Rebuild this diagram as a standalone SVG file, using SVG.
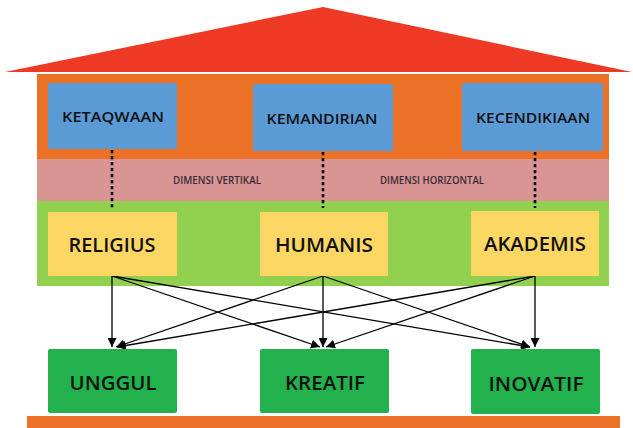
<svg xmlns="http://www.w3.org/2000/svg" width="633" height="428" viewBox="0 0 633 428">
<style>
.top{fill:#5B9BD5}
.mid{fill:#FDD764}
.bot{fill:#22B14C}
.t1{font-family:"Open Sans",Lato,sans-serif;font-size:13.5px;font-weight:600;fill:#111;text-anchor:middle}
.t2{font-family:"Open Sans",Lato,sans-serif;font-size:20.5px;font-weight:600;fill:#111;text-anchor:middle}
.dim{font-family:"Open Sans",Lato,sans-serif;font-size:11px;font-weight:600;fill:#3a2b35;text-anchor:middle}
.dot{stroke:#000;stroke-width:2.6;stroke-dasharray:3.2 2.8;fill:none}
.ar{stroke:#000;stroke-width:1.3;fill:none;marker-end:url(#ah)}
</style>
<defs>
<marker id="ah" viewBox="0 0 10 10" refX="10" refY="5" markerWidth="9" markerHeight="9" markerUnits="userSpaceOnUse" orient="auto">
<path d="M0,0 L10,5 L0,10 z" fill="#000"/>
</marker>
</defs>
<g id="house">
<polygon points="5,72 323,7 632,72" fill="#EE3A24"/>
<rect x="37" y="74" width="572" height="85" fill="#EA7125"/>
<rect x="37" y="159" width="572" height="42" fill="#D99594"/>
<rect x="37" y="201" width="572" height="85" fill="#92D050"/>
<rect x="27" y="416" width="593" height="12" fill="#EA7125"/>
<text class="dim" x="217" y="184" textLength="88" lengthAdjust="spacingAndGlyphs">DIMENSI VERTIKAL</text>
<text class="dim" x="432" y="184" textLength="104" lengthAdjust="spacingAndGlyphs">DIMENSI HORIZONTAL</text>
</g>
<g id="connectors">
<line class="dot" x1="112" y1="150" x2="112" y2="208"/>
<line class="dot" x1="323" y1="152" x2="323" y2="208"/>
<line class="dot" x1="535" y1="152" x2="535" y2="208"/>
<line class="ar" x1="112" y1="276" x2="112" y2="347"/>
<line class="ar" x1="112" y1="276" x2="320" y2="347"/>
<line class="ar" x1="112" y1="276" x2="530" y2="347"/>
<line class="ar" x1="323" y1="276" x2="116" y2="347"/>
<line class="ar" x1="323" y1="276" x2="323" y2="347"/>
<line class="ar" x1="323" y1="276" x2="530" y2="347"/>
<line class="ar" x1="535" y1="276" x2="117" y2="347"/>
<line class="ar" x1="535" y1="276" x2="326" y2="347"/>
<line class="ar" x1="535" y1="276" x2="535" y2="347"/>
</g>
<g id="ketaqwaan"><rect class="top" x="48" y="83" width="129" height="66" rx="2"/><text class="t1" x="113" y="122" textLength="102" lengthAdjust="spacingAndGlyphs">KETAQWAAN</text></g>
<g id="kemandirian"><rect class="top" x="253" y="84" width="140" height="67" rx="2"/><text class="t1" x="322" y="124" textLength="111" lengthAdjust="spacingAndGlyphs">KEMANDIRIAN</text></g>
<g id="kecendikiaan"><rect class="top" x="462" y="83" width="141" height="68" rx="2"/><text class="t1" x="533" y="123" textLength="114" lengthAdjust="spacingAndGlyphs">KECENDIKIAAN</text></g>
<g id="religius"><rect class="mid" x="48" y="212" width="129" height="64" rx="1"/><text class="t2" x="112" y="252" textLength="87" lengthAdjust="spacingAndGlyphs">RELIGIUS</text></g>
<g id="humanis"><rect class="mid" x="260" y="212" width="128" height="64" rx="1"/><text class="t2" x="324" y="252" textLength="98" lengthAdjust="spacingAndGlyphs">HUMANIS</text></g>
<g id="akademis"><rect class="mid" x="471" y="211" width="128" height="65" rx="1"/><text class="t2" x="535" y="251" textLength="102" lengthAdjust="spacingAndGlyphs">AKADEMIS</text></g>
<g id="unggul"><rect class="bot" x="48" y="349" width="129" height="64" rx="2"/><text class="t2" x="113" y="390" textLength="87" lengthAdjust="spacingAndGlyphs">UNGGUL</text></g>
<g id="kreatif"><rect class="bot" x="260" y="349" width="129" height="64" rx="2"/><text class="t2" x="325" y="390" textLength="80" lengthAdjust="spacingAndGlyphs">KREATIF</text></g>
<g id="inovatif"><rect class="bot" x="471" y="349" width="129" height="65" rx="2"/><text class="t2" x="536" y="391" textLength="95" lengthAdjust="spacingAndGlyphs">INOVATIF</text></g>
</svg>
